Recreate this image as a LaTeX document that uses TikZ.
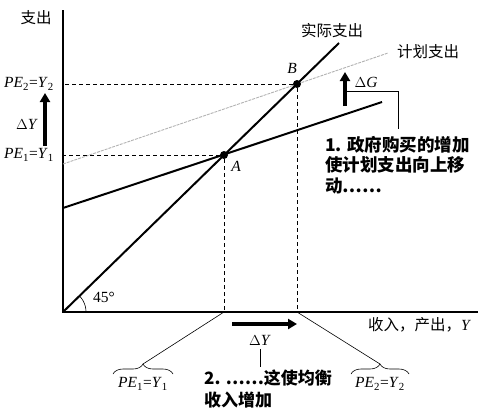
\documentclass[tikz,border=0pt]{standalone}
\usepackage{fontspec}
\setmainfont{Liberation Serif}
\newfontfamily\cjk{Noto Sans CJK SC}
\usetikzlibrary{arrows.meta,decorations.pathreplacing}
\begin{document}
\begin{tikzpicture}[x=1pt,y=-1pt,
 axis/.style={line width=1.3pt},
 curve/.style={line width=2pt},
 newcurve/.style={line width=0.9pt, gray!60, dash pattern=on 3pt off 1pt},
 guide/.style={line width=1pt, dash pattern=on 4pt off 3pt},
 dot/.style={circle,fill=black,inner sep=0pt,minimum size=8pt},
 lbl/.style={font=\fontsize{15.5}{17}\selectfont, inner sep=1pt},
 cjklbl/.style={font=\cjk\fontsize{15.5}{17}\selectfont, inner sep=1pt},
 note/.style={font=\cjk\bfseries\fontsize{17.5}{20.5}\selectfont, align=left, inner sep=0pt},
 bigarrow/.style={line width=4pt, -{Triangle[length=9pt,width=10pt]}},
 thinline/.style={line width=0.6pt},
 bracedec/.style={thinline, decorate, decoration={brace, amplitude=10pt}}]
\useasboundingbox (0,0) rectangle (489,416);

% axes
\coordinate (O) at (63,312);
\coordinate (ytop) at (63,10);
\coordinate (xend) at (478,312);
\draw[axis] (ytop) -- (O) -- (xend);

% lines
\coordinate (L45) at (339,43);
\coordinate (PE1s) at (63,208);
\coordinate (PE1e) at (382,102);
\coordinate (PE2s) at (63,164);
\coordinate (PE2e) at (388,53);
\draw[newcurve] (PE2s) -- (PE2e);
\draw[curve] (PE1s) -- (PE1e);
\draw[curve] (O) -- (L45);

% equilibrium points
\node[dot] (A) at (224,155) {};
\node[dot] (B) at (297,84) {};
\draw[guide] (A) -- (O |- A);
\draw[guide] (B) -- (O |- B);
\draw[guide] (A) -- (A |- O);
\draw[guide] (B) -- (B |- O);
\node[lbl, font=\itshape\fontsize{15.5}{17}\selectfont] (Alab) at (236,166) {A};
\node[lbl, font=\itshape\fontsize{15.5}{17}\selectfont] (Blab) at (292,68) {B};

% 45 degree
\draw[thinline] plot[domain=0:44, samples=20] ({63+23*cos(\x)},{312-23*sin(\x)});
\node[lbl] (deg) at (104,297) {45\textdegree};

% axis labels
\node[cjklbl] (ylab) at (36,18) {支出};
\node[cjklbl] (act) at (332,31) {实际支出};
\node[cjklbl] (plan) at (428,52) {计划支出};
\node[lbl, font=\cjk\fontsize{15.5}{17}\selectfont] (xlab) at (419,325) {收入，产出，{\rmfamily\itshape Y}};

% left labels
\node[lbl] (pe2l) at (29,84) {\textit{PE}\textsubscript{2}=\textit{Y}\textsubscript{2}};
\node[lbl] (pe1l) at (29,155) {\textit{PE}\textsubscript{1}=\textit{Y}\textsubscript{1}};
\node[lbl] (dyl) at (27,124) {$\Delta$\textit{Y}};
\coordinate (dyla) at (45,146);
\coordinate (dylb) at (45,93);
\draw[bigarrow] (dyla) -- (dylb);

% Delta G
\coordinate (dga) at (345,106);
\coordinate (dgb) at (345,72);
\draw[bigarrow] (dga) -- (dgb);
\node[lbl] (dg) at (366,82) {$\Delta$\textit{G}};
\coordinate (n1a) at (347,91);
\coordinate (n1b) at (398,91);
\coordinate (n1c) at (398,129);
\draw[thinline] (n1a) -- (n1b) -- (n1c);
\node[note, anchor=north west] (note1) at (325,136) {1. 政府购买的增加\\使计划支出向上移\\动……};

% bottom
\coordinate (dyba) at (232,324);
\coordinate (dybb) at (297,324);
\draw[bigarrow] (dyba) -- (dybb);
\node[lbl] (dyb) at (260,340) {$\Delta$\textit{Y}};
\coordinate (n2a) at (260,349);
\coordinate (n2b) at (260,367);
\draw[thinline] (n2a) -- (n2b);
\node[note, font=\cjk\bfseries\fontsize{17}{21.5}\selectfont, anchor=north west] (note2) at (204,370) {2. ……这使均衡\\收入增加};

% braces
\coordinate (br1a) at (113,374);
\coordinate (br1b) at (173,374);
\coordinate (br1t) at (143,364);
\coordinate (br2a) at (351,374);
\coordinate (br2b) at (409,374);
\coordinate (br2t) at (380,364);
\draw[bracedec] (br1a) -- (br1b);
\draw[bracedec] (br2a) -- (br2b);
\coordinate (A0) at (224,312);
\coordinate (B0) at (297,312);
\draw[thinline] (A0) -- (br1t);
\draw[thinline] (B0) -- (br2t);
\node[lbl] (pe1b) at (143,384) {\textit{PE}\textsubscript{1}=\textit{Y}\textsubscript{1}};
\node[lbl] (pe2b) at (380,384) {\textit{PE}\textsubscript{2}=\textit{Y}\textsubscript{2}};
\end{tikzpicture}
\end{document}
